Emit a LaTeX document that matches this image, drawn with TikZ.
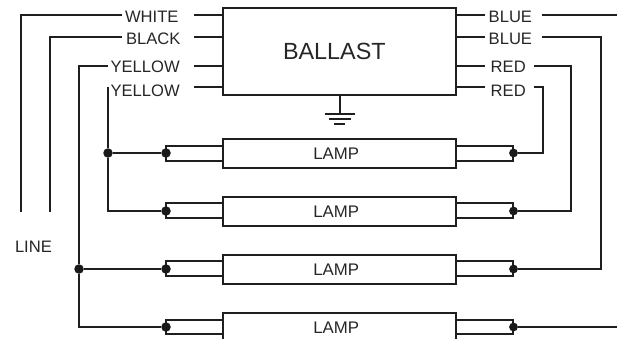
\documentclass[tikz,border=0pt]{standalone}
\usepackage{fontspec}
\setmainfont{Liberation Sans}
\tikzset{
  wire/.style={draw=black!88,line width=2pt,line cap=butt,line join=miter},
  box/.style={draw=black!88,line width=2pt,rectangle,inner sep=0pt,outer sep=0pt,fill=none},
  lbl/.style={anchor=base west,inner sep=0pt,outer sep=0pt,text=black!85,font=\fontsize{16.6}{16.6}\selectfont},
  lamptxt/.style={lbl,font=\fontsize{16.8}{16.8}\selectfont},
  dot/.style={circle,fill=black!90,draw=none,inner sep=0pt,minimum size=9.5pt}
}
\begin{document}
\begin{tikzpicture}[x=1pt,y=-1pt]
\useasboundingbox (0,0) rectangle (617,339);
\clip (0,0) rectangle (617,339);
% ballast
\node[box,minimum width=233pt,minimum height=87pt] (ballast) at (339.5,51.5) {};
\node[lbl,font=\fontsize{23.4}{23.4}\selectfont] (ballasttxt) at (283,60) {BALLAST};
% left labels
\node[lbl] (lw) at (125,22.5) {WHITE};
\node[lbl] (lb) at (126,45) {BLACK};
\node[lbl] (ly1) at (110.5,72.5) {YELLOW};
\node[lbl] (ly2) at (110.5,96.5) {YELLOW};
% right labels
\node[lbl] (rb1) at (488.7,22.7) {BLUE};
\node[lbl] (rb2) at (488.7,45) {BLUE};
\node[lbl] (rr1) at (490.7,72.5) {RED};
\node[lbl] (rr2) at (490.7,96.5) {RED};
\node[lbl] (line) at (15,252.7) {LINE};
% stubs on the ballast
\foreach \n/\y in {a/15,b/37,c/66,d/87}{
  \coordinate (sl\n) at (194,\y);
  \coordinate (sr\n) at (485,\y);
  \draw[wire] (sl\n) -- (ballast.west |- sl\n);
  \draw[wire] (ballast.east |- sr\n) -- (sr\n);
}
% lamps: name / top / wire above / middle / wire below
\foreach \n/\t/\u/\m/\d in {1/139/146/153/161,2/197/203/211/218,3/255/261/269/276,4/313/320/327/334}{
  \node[box,minimum width=233pt,minimum height=29pt,anchor=north west] (lamp\n) at (223,\t) {};
  \node[lamptxt] (lamptxt\n) at (313.3,\m+6.5) {LAMP};
  \coordinate (lu\n) at (166,\u);
  \coordinate (ld\n) at (166,\d);
  \coordinate (ru\n) at (513,\u);
  \coordinate (rd\n) at (513,\d);
  \draw[wire] (lamp\n.west |- lu\n) -- (lu\n) -- (ld\n) -- (lamp\n.west |- ld\n);
  \draw[wire] (lamp\n.east |- ru\n) -- (ru\n) -- (rd\n) -- (lamp\n.east |- rd\n);
  \node[dot] (ldot\n) at (166,\m) {};
  \node[dot,minimum size=8.8pt] (rdot\n) at (513.5,\m) {};
}
% junctions
\node[dot] (j1) at (108,153) {};
\node[dot] (j2) at (79,269) {};
% free ends
\coordinate (whiteend) at (21,212);
\coordinate (blackend) at (50,212);
\coordinate (whitetop) at (122,15);
\coordinate (blacktop) at (122,37);
\coordinate (y1top) at (108,66);
\coordinate (y2top) at (108,87);
\coordinate (blue1a) at (542,15);
\coordinate (blue1b) at (617,15);
\coordinate (blue2a) at (542,37);
\coordinate (red1a) at (534,66);
\coordinate (red2a) at (534,87);
\coordinate (bottomr) at (617,327);
% left wiring
\draw[wire] (whiteend) -- (whiteend |- whitetop) -- (whitetop);
\draw[wire] (blackend) -- (blackend |- blacktop) -- (blacktop);
\draw[wire] (y1top) -- (j2 |- y1top) -- (j2) -- (j2 |- ldot4) -- (ldot4);
\draw[wire] (j2) -- (ldot3);
\draw[wire] (y2top) -- (j1) -- (j1 |- ldot2) -- (ldot2);
\draw[wire] (j1) -- (ldot1);
% right wiring
\draw[wire] (blue1a) -- (blue1b);
\draw[wire] (blue2a) -- (601,37) -- (601,269) -- (rdot3);
\draw[wire] (red1a) -- (571,66) -- (571,211) -- (rdot2);
\draw[wire] (red2a) -- (543,87) -- (543,153) -- (rdot1);
\draw[wire] (rdot4) -- (bottomr);
% ground
\coordinate (g0) at (340,114);
\draw[wire] (ballast.south -| g0) -- (g0);
\draw[wire] (325,114) -- (355,114);
\draw[wire] (329,119) -- (351,119);
\draw[wire] (334,124) -- (345,124);
\end{tikzpicture}
\end{document}
